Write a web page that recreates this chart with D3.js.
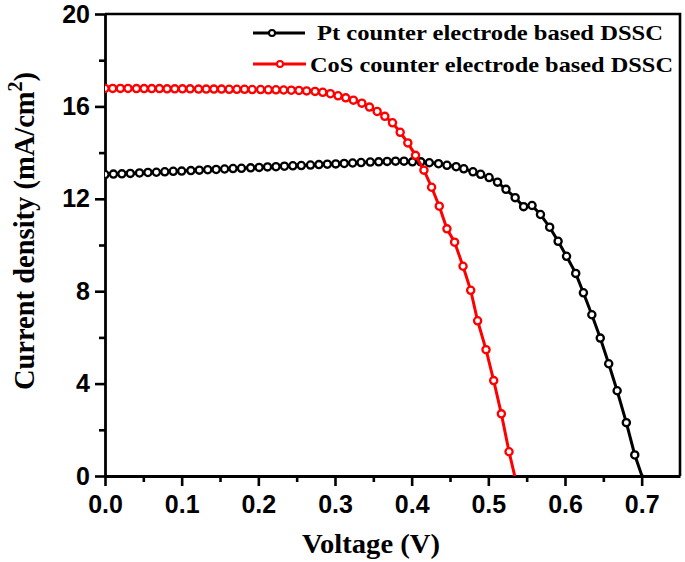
<!DOCTYPE html>
<html>
<head>
<meta charset="utf-8">
<script src="https://cdn.jsdelivr.net/npm/d3@7"></script>
<style>
  html, body { margin: 0; padding: 0; background: #fff; }
  svg { display: block; }
</style>
</head>
<body>
<svg id="chart" width="685" height="562"></svg>
<script>
// ---- Data ----
const seriesNames = ["Pt counter electrode based DSSC", "CoS counter electrode based DSSC"];
const seriesColors = ["#000000", "#ff0000"];

const ptVoltage = [0.000,0.011,0.022,0.033,0.045,0.056,0.067,0.078,0.089,0.100,0.112,0.123,0.134,0.145,0.156,0.167,0.178,0.190,0.201,0.212,0.223,0.234,0.245,0.256,0.268,0.279,0.290,0.301,0.312,0.323,0.334,0.346,0.357,0.368,0.379,0.390,
  0.401,0.412,0.423,0.435,0.446,0.458,0.468,0.480,0.490,0.501,0.512,0.523,0.535,0.546,0.557,0.568,0.580,0.591,0.602,0.614,0.624,0.635,0.646,0.657,0.668,0.680,0.691,0.702];
const ptCurrent = [13.05,13.07,13.08,13.10,13.12,13.14,13.15,13.17,13.19,13.20,13.22,13.24,13.26,13.27,13.29,13.31,13.32,13.34,13.36,13.38,13.39,13.41,13.43,13.44,13.46,13.48,13.50,13.51,13.53,13.55,13.57,13.59,13.60,13.62,13.63,13.63,
  13.60,13.60,13.56,13.52,13.45,13.39,13.30,13.17,13.06,12.92,12.72,12.41,12.05,11.66,11.71,11.32,10.77,10.16,9.51,8.77,7.93,6.98,5.97,4.86,3.69,2.31,0.91,-0.15];

const cosVoltage = [0.000,0.010,0.020,0.030,0.041,0.051,0.061,0.071,0.081,0.091,0.101,0.111,0.122,0.132,0.142,0.152,0.162,0.172,0.182,0.192,0.203,0.213,0.223,0.233,0.243,0.253,0.263,0.274,0.284,0.294,
  0.304,0.314,0.324,0.335,0.345,0.355,0.365,0.375,0.385,0.395,0.405,0.416,0.426,0.436,0.446,0.456,0.467,0.477,0.486,0.497,0.507,0.517,0.527,0.538];
const cosCurrent = [16.78,16.78,16.78,16.78,16.77,16.77,16.77,16.77,16.76,16.76,16.76,16.76,16.75,16.75,16.75,16.75,16.74,16.74,16.74,16.73,16.73,16.72,16.72,16.71,16.70,16.69,16.67,16.65,16.61,16.55,
  16.46,16.37,16.27,16.14,15.97,15.78,15.57,15.29,14.88,14.42,13.88,13.24,12.50,11.68,10.70,10.12,9.08,8.04,6.72,5.47,4.13,2.69,1.05,-0.5];

const xMajorTicks = [0.0,0.1,0.2,0.3,0.4,0.5,0.6,0.7];
const xMinorTicks = [0.05,0.15,0.25,0.35,0.45,0.55,0.65];
const yMajorTicks = [0,4,8,12,16,20];
const yMinorTicks = [2,6,10,14,18];

// ---- Layout ----
const svg = d3.select("#chart");
const L = 105, T = 14, R = 680, B = 476;
const x = d3.scaleLinear().domain([0, 0.75]).range([L, R]);
const y = d3.scaleLinear().domain([0, 20]).range([B, T]);

const tickFont = "'Liberation Sans', Arial, sans-serif";
const serif = "'Liberation Serif', 'Times New Roman', serif";

svg.append("clipPath").attr("id", "plotClip")
  .append("rect").attr("x", L).attr("y", T).attr("width", R - L).attr("height", B - T);

// frame (top & right)
svg.append("path")
  .attr("d", `M${L},${T}H${R}V${B}`)
  .attr("fill", "none").attr("stroke", "#000").attr("stroke-width", 2.6);

function styleAxis(g) {
  g.select(".domain").attr("stroke-width", 2.8);
  g.selectAll(".tick line").attr("stroke-width", 2.6);
  g.selectAll("text").attr("font-family", tickFont).attr("font-weight", "bold")
    .attr("font-size", 25).attr("fill", "#000");
}

const xAxis = svg.append("g").attr("transform", `translate(0,${B})`)
  .call(d3.axisBottom(x).tickValues(xMajorTicks).tickFormat(d3.format(".1f")).tickSize(10).tickPadding(9).tickSizeOuter(0));
styleAxis(xAxis);
const xMinor = svg.append("g").attr("transform", `translate(0,${B})`)
  .call(d3.axisBottom(x).tickValues(xMinorTicks).tickFormat("").tickSize(6).tickSizeOuter(0));
xMinor.select(".domain").remove();
xMinor.selectAll(".tick line").attr("stroke-width", 2.6);

const yAxis = svg.append("g").attr("transform", `translate(${L},0)`)
  .call(d3.axisLeft(y).tickValues(yMajorTicks).tickFormat(d3.format("d")).tickSize(10).tickPadding(5).tickSizeOuter(0));
styleAxis(yAxis);
const yMinor = svg.append("g").attr("transform", `translate(${L},0)`)
  .call(d3.axisLeft(y).tickValues(yMinorTicks).tickFormat("").tickSize(6).tickSizeOuter(0));
yMinor.select(".domain").remove();
yMinor.selectAll(".tick line").attr("stroke-width", 2.6);

// series
const series = [
  { name: seriesNames[0], color: seriesColors[0], pts: ptVoltage.map((v, i) => [v, ptCurrent[i]]) },
  { name: seriesNames[1], color: seriesColors[1], pts: cosVoltage.map((v, i) => [v, cosCurrent[i]]) }
];

const plot = svg.append("g").attr("clip-path", "url(#plotClip)");
const line = d3.line().x(d => x(d[0])).y(d => y(d[1]));

series.forEach(s => {
  const g = plot.append("g");
  g.append("path").datum(s.pts).attr("d", line)
    .attr("fill", "none").attr("stroke", s.color).attr("stroke-width", 3);
  g.selectAll("circle").data(s.pts).enter().append("circle")
    .attr("cx", d => x(d[0])).attr("cy", d => y(d[1])).attr("r", 3.6)
    .attr("fill", "#fff").attr("stroke", s.color).attr("stroke-width", 2.3);
});

// legend
const legendRows = [
  { x1: 253, x2: 305, cx: 272, y: 33, tx: 317, ty: 40, tw: 346 },
  { x1: 253, x2: 306, cx: 280, y: 64, tx: 310, ty: 72, tw: 363 }
];
series.forEach((s, i) => {
  const r = legendRows[i];
  const g = svg.append("g");
  g.append("line").attr("x1", r.x1).attr("x2", r.x2).attr("y1", r.y).attr("y2", r.y)
    .attr("stroke", s.color).attr("stroke-width", 2.8);
  g.append("circle").attr("cx", r.cx).attr("cy", r.y).attr("r", 3)
    .attr("fill", "#fff").attr("stroke", s.color).attr("stroke-width", 2);
  g.append("text").attr("x", r.tx).attr("y", r.ty)
    .attr("font-family", serif).attr("font-weight", "bold").attr("font-size", 22)
    .attr("textLength", r.tw).attr("lengthAdjust", "spacingAndGlyphs")
    .text(s.name);
});

// axis titles
svg.append("text").attr("x", 371).attr("y", 553)
  .attr("text-anchor", "middle")
  .attr("font-family", serif).attr("font-weight", "bold").attr("font-size", 27)
  .attr("textLength", 138).attr("lengthAdjust", "spacingAndGlyphs")
  .text("Voltage (V)");

const yt = svg.append("text")
  .attr("transform", "translate(34,231) rotate(-90)")
  .attr("text-anchor", "middle")
  .attr("font-family", serif).attr("font-weight", "bold").attr("font-size", 28.5);
yt.append("tspan").text("Current density (mA/cm");
yt.append("tspan").attr("dy", -12).attr("font-size", 20).text("2");
yt.append("tspan").attr("dy", 12).text(")");
</script>
</body>
</html>
